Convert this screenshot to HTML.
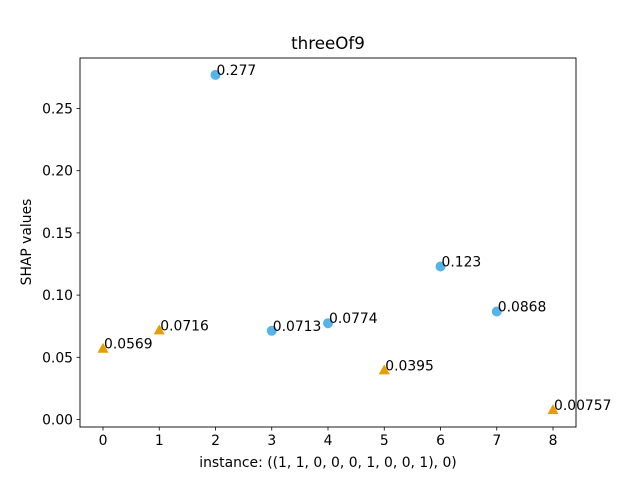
<!DOCTYPE html>
<html><head><meta charset="utf-8"><style>
body{margin:0;background:#fff;}
svg{display:block;font-family:"DejaVu Sans","Liberation Sans",sans-serif;}
</style></head><body>
<svg id="chart" width="640" height="480">
<rect width="640" height="480" fill="#fff"/>
<text x="328" y="49" font-size="16.7" text-anchor="middle">threeOf9</text>
<g id="plot"></g>
<rect x="80" y="58" width="496" height="369" fill="none" stroke="#000" stroke-width="0.9"/>
<text x="328" y="467" font-size="13.9" text-anchor="middle">instance: ((1, 1, 0, 0, 0, 1, 0, 0, 1), 0)</text>
<text transform="translate(31,242) rotate(-90)" font-size="13.9" text-anchor="middle">SHAP values</text>
</svg>
<script>
const xs=[0,1,2,3,4,5,6,7,8];
const values=[0.0569,0.0716,0.277,0.0713,0.0774,0.0395,0.123,0.0868,0.00757];
const labels=["0.0569","0.0716","0.277","0.0713","0.0774","0.0395","0.123","0.0868","0.00757"];
const kinds=["tri","tri","circ","circ","circ","tri","circ","circ","tri"];
const xTicks=[0,1,2,3,4,5,6,7,8];
const yTicks=[0,0.05,0.10,0.15,0.20,0.25];
const yTickLabels=["0.00","0.05","0.10","0.15","0.20","0.25"];
const ns="http://www.w3.org/2000/svg";
const g=document.getElementById('plot');
const X=v=>103+v*56.25;
const Y=v=>419.5-v*1244;
function mk(t,a){const e=document.createElementNS(ns,t);for(const k in a)e.setAttribute(k,a[k]);g.appendChild(e);return e;}
xTicks.forEach(t=>{
 const l=mk('line',{x1:X(t),x2:X(t),y1:427,y2:430.5,stroke:'#000','stroke-width':0.8});
 
 
 const tx=mk('text',{x:X(t),y:445,'font-size':13.9,'text-anchor':'middle'});tx.textContent=t;
 
 
});
yTicks.forEach((t,i)=>{
 const l=mk('line',{x1:76.5,x2:80,y1:Y(t),y2:Y(t),stroke:'#000','stroke-width':0.8});
 
 
 const tx=mk('text',{x:73,y:Y(t)+5,'font-size':13.9,'text-anchor':'end'});tx.textContent=yTickLabels[i];
 
 
});
xs.forEach((x,i)=>{
 const px=X(x),py=Y(values[i]);let m;
 if(kinds[i]==='circ'){m=mk('circle',{cx:px,cy:py,r:5,fill:'#56B4E9'});}
 else{m=mk('polygon',{points:`${px},${py-6} ${px-5.5},${py+4} ${px+5.5},${py+4}`,fill:'#E69F00'});}
 
 
 const tx=mk('text',{x:px+1,y:py,'font-size':13.9});tx.textContent=labels[i];
 
 
});
</script>
</body></html>
